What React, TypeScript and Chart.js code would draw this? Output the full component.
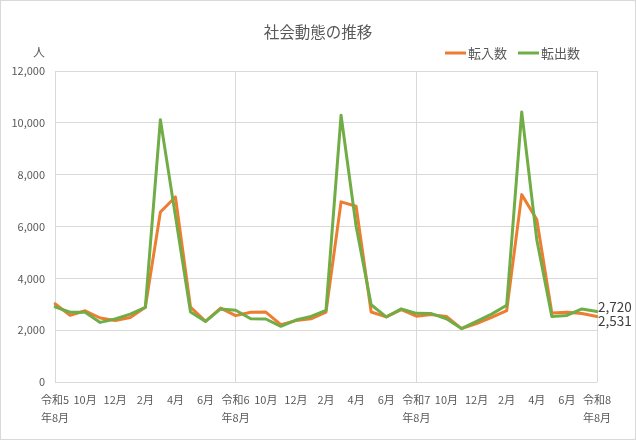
import React, { useRef, useEffect } from 'react';
import { Chart, registerables } from 'chart.js';

Chart.register(...registerables);

const MONTHS: (string | string[])[] = [
    ['令和5', '年8月'], '9月', '10月', '11月', '12月', '1月', '2月', '3月', '4月', '5月', '6月', '7月',
    ['令和6', '年8月'], '9月', '10月', '11月', '12月', '1月', '2月', '3月', '4月', '5月', '6月', '7月',
    ['令和7', '年8月'], '9月', '10月', '11月', '12月', '1月', '2月', '3月', '4月', '5月', '6月', '7月',
    ['令和8', '年8月'],
];

const MOVE_IN = [
    3020, 2570, 2750, 2470, 2370, 2490, 2880, 6560, 7140, 2890, 2340, 2850,
    2560, 2690, 2700, 2210, 2370, 2440, 2700, 6950, 6780, 2700, 2510, 2790,
    2540, 2600, 2530, 2060, 2250, 2490, 2750, 7230, 6270, 2660, 2690, 2640,
    2531,
];

const MOVE_OUT = [
    2900, 2690, 2690, 2300, 2430, 2620, 2880, 10120, 6400, 2700, 2340, 2820,
    2770, 2440, 2430, 2150, 2390, 2530, 2760, 10290, 6010, 2980, 2510, 2820,
    2650, 2640, 2440, 2060, 2340, 2620, 2960, 10420, 5490, 2530, 2570, 2820,
    2720,
];

const SERIES_NAMES = ['転入数', '転出数'];
const COLORS = ['#ED7D31', '#70AD47'];

const FONT = '"Noto Sans CJK JP", "Noto Sans", sans-serif';
const GRID = '#d9d9d9';
const TEXT = '#595959';

// title, unit, legend and the two end-of-line value labels
const decorPlugin = {
    id: 'decor',
    afterDraw(chart: Chart) {
        const { ctx } = chart;
        ctx.save();
        ctx.fillStyle = TEXT;
        ctx.textBaseline = 'middle';

        ctx.font = `15.5px ${FONT}`;
        ctx.textAlign = 'center';
        ctx.fillText('社会動態の推移', 317, 31);

        ctx.font = `12px ${FONT}`;
        ctx.fillText('人', 38, 51);

        ctx.font = `13px ${FONT}`;
        ctx.textAlign = 'left';
        const legendX = [444, 517];
        SERIES_NAMES.forEach((name, i) => {
            ctx.strokeStyle = COLORS[i];
            ctx.lineWidth = 3;
            ctx.beginPath();
            ctx.moveTo(legendX[i], 52);
            ctx.lineTo(legendX[i] + 21, 52);
            ctx.stroke();
            ctx.fillStyle = TEXT;
            ctx.fillText(name, legendX[i] + 23, 52);
        });

        const xs = chart.scales.x;
        const ys = chart.scales.y;
        const last = MONTHS.length - 1;
        ctx.font = `13.5px ${FONT}`;
        ctx.fillStyle = '#404040';
        const outVal = MOVE_OUT[last];
        const inVal = MOVE_IN[last];
        const px = xs.getPixelForValue(last) + 1;
        ctx.fillText(outVal.toLocaleString('en-US'), px, ys.getPixelForValue(outVal) - 4.5);
        ctx.fillText(inVal.toLocaleString('en-US'), px, ys.getPixelForValue(inVal) + 4);
        ctx.restore();
    },
};

const App: React.FC = () => {
    const chartRef = useRef<HTMLCanvasElement>(null);
    const chartInstance = useRef<Chart | null>(null);

    useEffect(() => {
        document.body.style.margin = '0';
        if (!chartRef.current) return;
        if (chartInstance.current) chartInstance.current.destroy();

        const ctx = chartRef.current.getContext('2d');
        if (!ctx) return;

        chartInstance.current = new Chart(ctx, {
            type: 'line',
            data: {
                labels: MONTHS,
                datasets: [
                    {
                        label: SERIES_NAMES[0],
                        data: MOVE_IN,
                        borderColor: COLORS[0],
                        backgroundColor: COLORS[0],
                        borderWidth: 3,
                        pointRadius: 0,
                        tension: 0,
                        borderJoinStyle: 'round',
                        borderCapStyle: 'round',
                        order: 1,
                    },
                    {
                        label: SERIES_NAMES[1],
                        data: MOVE_OUT,
                        borderColor: COLORS[1],
                        backgroundColor: COLORS[1],
                        borderWidth: 3,
                        pointRadius: 0,
                        tension: 0,
                        borderJoinStyle: 'round',
                        borderCapStyle: 'round',
                        order: 0,
                    },
                ],
            },
            options: {
                responsive: false,
                animation: false,
                layout: { padding: { top: 70, left: 8, right: 38, bottom: 7 } },
                plugins: {
                    legend: { display: false },
                    title: { display: false },
                    tooltip: { enabled: false },
                },
                scales: {
                    x: {
                        offset: false,
                        border: { display: false },
                        grid: {
                            drawTicks: false,
                            color: (c) => (c.index % 12 === 0 ? GRID : 'rgba(0,0,0,0)'),
                        },
                        ticks: {
                            autoSkip: false,
                            maxRotation: 0,
                            padding: 9,
                            color: TEXT,
                            font: { family: FONT, size: 11, lineHeight: 1.65 },
                            callback: function (val, idx) {
                                return idx % 2 === 0 ? (this as any).getLabelForValue(val) : '';
                            },
                        },
                        afterFit: (scale) => { scale.height = 50; },
                    },
                    y: {
                        min: 0,
                        max: 12000,
                        border: { display: false },
                        grid: { drawTicks: false, color: GRID },
                        ticks: {
                            stepSize: 2000,
                            padding: 10,
                            color: TEXT,
                            font: { family: FONT, size: 11 },
                            callback: (v) => Number(v).toLocaleString('en-US'),
                        },
                        afterFit: (scale) => { scale.width = 46; },
                    },
                },
            },
            plugins: [decorPlugin],
        });

        return () => { chartInstance.current?.destroy(); };
    }, []);

    return (
        <div style={{ width: 636, height: 440, boxSizing: 'border-box', border: `1px solid ${GRID}`, background: '#fff' }}>
            <canvas ref={chartRef} width={634} height={438} style={{ display: 'block' }} />
        </div>
    );
};

export default App;
